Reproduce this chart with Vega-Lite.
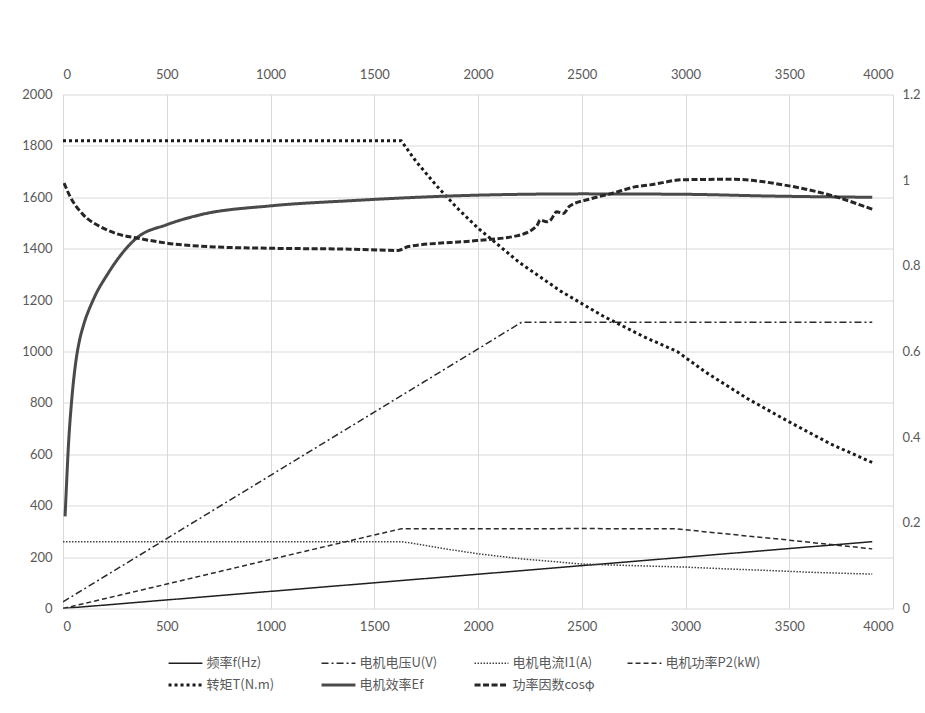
{
  "$schema": "https://vega.github.io/schema/vega-lite/v6.json",
  "width": 830,
  "height": 514,
  "autosize": {"type": "none"},
  "padding": {"left": 63, "top": 94.5, "right": 32, "bottom": 104.5},
  "background": "white",
  "config": {
    "view": {"stroke": null},
    "font": "Lato",
    "axis": {
      "domain": false,
      "ticks": false,
      "labelColor": "#595959",
      "labelFont": "Lato",
      "labelFontSize": 13,
      "gridColor": "#d9d9d9",
      "gridWidth": 1,
      "title": null
    },
    "legend": {
      "title": null,
      "orient": "none",
      "legendX": 116,
      "legendY": 562,
      "direction": "horizontal",
      "columns": 4,
      "gridAlign": "all",
      "columnPadding": 13,
      "rowPadding": 8,
      "padding": 0,
      "symbolType": "stroke",
      "symbolSize": 1150,
      "symbolStrokeWidth": 1.5,
      "labelOffset": 14.5,
      "labelFont": "Noto Sans CJK SC",
      "labelFontSize": 13,
      "labelColor": "#595959"
    }
  },
  "datasets": {
    "left": [
      {"s": "频率f(Hz)", "x": 0, "v": 0},
      {"s": "频率f(Hz)", "x": 500, "v": 33.3},
      {"s": "频率f(Hz)", "x": 1000, "v": 66.7},
      {"s": "频率f(Hz)", "x": 1500, "v": 100},
      {"s": "频率f(Hz)", "x": 1630, "v": 108.7},
      {"s": "频率f(Hz)", "x": 2000, "v": 133.3},
      {"s": "频率f(Hz)", "x": 2500, "v": 166.7},
      {"s": "频率f(Hz)", "x": 3000, "v": 200},
      {"s": "频率f(Hz)", "x": 3500, "v": 233.3},
      {"s": "频率f(Hz)", "x": 3900, "v": 260},

      {"s": "电机电压U(V)", "x": 0, "v": 26},
      {"s": "电机电压U(V)", "x": 500, "v": 272},
      {"s": "电机电压U(V)", "x": 1000, "v": 518},
      {"s": "电机电压U(V)", "x": 1500, "v": 764},
      {"s": "电机电压U(V)", "x": 2000, "v": 1010},
      {"s": "电机电压U(V)", "x": 2210, "v": 1114},
      {"s": "电机电压U(V)", "x": 2500, "v": 1114},
      {"s": "电机电压U(V)", "x": 3000, "v": 1114},
      {"s": "电机电压U(V)", "x": 3500, "v": 1114},
      {"s": "电机电压U(V)", "x": 3900, "v": 1114},

      {"s": "电机电流I1(A)", "x": 0, "v": 260},
      {"s": "电机电流I1(A)", "x": 500, "v": 260},
      {"s": "电机电流I1(A)", "x": 1000, "v": 260},
      {"s": "电机电流I1(A)", "x": 1500, "v": 260},
      {"s": "电机电流I1(A)", "x": 1630, "v": 260},
      {"s": "电机电流I1(A)", "x": 1700, "v": 252},
      {"s": "电机电流I1(A)", "x": 1800, "v": 238},
      {"s": "电机电流I1(A)", "x": 1900, "v": 225},
      {"s": "电机电流I1(A)", "x": 2000, "v": 213},
      {"s": "电机电流I1(A)", "x": 2200, "v": 194},
      {"s": "电机电流I1(A)", "x": 2400, "v": 180},
      {"s": "电机电流I1(A)", "x": 2500, "v": 173},
      {"s": "电机电流I1(A)", "x": 2700, "v": 168},
      {"s": "电机电流I1(A)", "x": 3000, "v": 161},
      {"s": "电机电流I1(A)", "x": 3200, "v": 154},
      {"s": "电机电流I1(A)", "x": 3400, "v": 148},
      {"s": "电机电流I1(A)", "x": 3600, "v": 141},
      {"s": "电机电流I1(A)", "x": 3800, "v": 136},
      {"s": "电机电流I1(A)", "x": 3900, "v": 134},

      {"s": "电机功率P2(kW)", "x": 0, "v": 0},
      {"s": "电机功率P2(kW)", "x": 500, "v": 95},
      {"s": "电机功率P2(kW)", "x": 1000, "v": 191},
      {"s": "电机功率P2(kW)", "x": 1500, "v": 286},
      {"s": "电机功率P2(kW)", "x": 1630, "v": 310},
      {"s": "电机功率P2(kW)", "x": 2000, "v": 310},
      {"s": "电机功率P2(kW)", "x": 2500, "v": 311},
      {"s": "电机功率P2(kW)", "x": 2960, "v": 310},
      {"s": "电机功率P2(kW)", "x": 3100, "v": 298},
      {"s": "电机功率P2(kW)", "x": 3300, "v": 282},
      {"s": "电机功率P2(kW)", "x": 3500, "v": 266},
      {"s": "电机功率P2(kW)", "x": 3700, "v": 249},
      {"s": "电机功率P2(kW)", "x": 3900, "v": 232},

      {"s": "转矩T(N.m)", "x": 0, "v": 1820},
      {"s": "转矩T(N.m)", "x": 500, "v": 1820},
      {"s": "转矩T(N.m)", "x": 1000, "v": 1820},
      {"s": "转矩T(N.m)", "x": 1500, "v": 1820},
      {"s": "转矩T(N.m)", "x": 1630, "v": 1820},
      {"s": "转矩T(N.m)", "x": 1700, "v": 1741},
      {"s": "转矩T(N.m)", "x": 1800, "v": 1645},
      {"s": "转矩T(N.m)", "x": 1900, "v": 1558},
      {"s": "转矩T(N.m)", "x": 2000, "v": 1480},
      {"s": "转矩T(N.m)", "x": 2200, "v": 1346},
      {"s": "转矩T(N.m)", "x": 2400, "v": 1234},
      {"s": "转矩T(N.m)", "x": 2600, "v": 1139},
      {"s": "转矩T(N.m)", "x": 2800, "v": 1057},
      {"s": "转矩T(N.m)", "x": 2960, "v": 1000},
      {"s": "转矩T(N.m)", "x": 3100, "v": 918},
      {"s": "转矩T(N.m)", "x": 3300, "v": 816},
      {"s": "转矩T(N.m)", "x": 3500, "v": 726},
      {"s": "转矩T(N.m)", "x": 3700, "v": 640},
      {"s": "转矩T(N.m)", "x": 3900, "v": 568}
    ],
    "right": [
      {"s": "电机效率Ef", "x": 10, "v": 0.215},
      {"s": "电机效率Ef", "x": 18, "v": 0.3},
      {"s": "电机效率Ef", "x": 25, "v": 0.37},
      {"s": "电机效率Ef", "x": 42, "v": 0.487},
      {"s": "电机效率Ef", "x": 55, "v": 0.55},
      {"s": "电机效率Ef", "x": 66, "v": 0.59},
      {"s": "电机效率Ef", "x": 80, "v": 0.627},
      {"s": "电机效率Ef", "x": 98, "v": 0.66},
      {"s": "电机效率Ef", "x": 146, "v": 0.721},
      {"s": "电机效率Ef", "x": 218, "v": 0.783},
      {"s": "电机效率Ef", "x": 355, "v": 0.865},
      {"s": "电机效率Ef", "x": 500, "v": 0.896},
      {"s": "电机效率Ef", "x": 660, "v": 0.919},
      {"s": "电机效率Ef", "x": 1000, "v": 0.94},
      {"s": "电机效率Ef", "x": 1383, "v": 0.952},
      {"s": "电机效率Ef", "x": 2000, "v": 0.965},
      {"s": "电机效率Ef", "x": 2500, "v": 0.968},
      {"s": "电机效率Ef", "x": 3000, "v": 0.967},
      {"s": "电机效率Ef", "x": 3400, "v": 0.963},
      {"s": "电机效率Ef", "x": 3900, "v": 0.96},

      {"s": "功率因数cosφ", "x": 5, "v": 0.993},
      {"s": "功率因数cosφ", "x": 34, "v": 0.962},
      {"s": "功率因数cosφ", "x": 98, "v": 0.919},
      {"s": "功率因数cosφ", "x": 178, "v": 0.892},
      {"s": "功率因数cosφ", "x": 259, "v": 0.875},
      {"s": "功率因数cosφ", "x": 355, "v": 0.865},
      {"s": "功率因数cosφ", "x": 500, "v": 0.853},
      {"s": "功率因数cosφ", "x": 741, "v": 0.844},
      {"s": "功率因数cosφ", "x": 1000, "v": 0.841},
      {"s": "功率因数cosφ", "x": 1383, "v": 0.839},
      {"s": "功率因数cosφ", "x": 1616, "v": 0.836},
      {"s": "功率因数cosφ", "x": 1664, "v": 0.845},
      {"s": "功率因数cosφ", "x": 1993, "v": 0.859},
      {"s": "功率因数cosφ", "x": 2186, "v": 0.87},
      {"s": "功率因数cosφ", "x": 2283, "v": 0.893},
      {"s": "功率因数cosφ", "x": 2300, "v": 0.907},
      {"s": "功率因数cosφ", "x": 2330, "v": 0.903},
      {"s": "功率因数cosφ", "x": 2350, "v": 0.907},
      {"s": "功率因数cosφ", "x": 2379, "v": 0.926},
      {"s": "功率因数cosφ", "x": 2410, "v": 0.922},
      {"s": "功率因数cosφ", "x": 2443, "v": 0.94},
      {"s": "功率因数cosφ", "x": 2540, "v": 0.956},
      {"s": "功率因数cosφ", "x": 2652, "v": 0.97},
      {"s": "功率因数cosφ", "x": 2764, "v": 0.985},
      {"s": "功率因数cosφ", "x": 2829, "v": 0.989},
      {"s": "功率因数cosφ", "x": 2990, "v": 1.001},
      {"s": "功率因数cosφ", "x": 3230, "v": 1.002},
      {"s": "功率因数cosφ", "x": 3471, "v": 0.989},
      {"s": "功率因数cosφ", "x": 3712, "v": 0.963},
      {"s": "功率因数cosφ", "x": 3900, "v": 0.932}
    ]
  },
  "encoding": {
    "color": {
      "field": "s",
      "type": "nominal",
      "scale": {
        "domain": ["频率f(Hz)", "电机电压U(V)", "电机电流I1(A)", "电机功率P2(kW)", "转矩T(N.m)", "电机效率Ef", "功率因数cosφ"],
        "range": ["#1f1f1f", "#2b2b2b", "#404040", "#2b2b2b", "#1a1a1a", "#4a4a4a", "#262626"]
      },
      "legend": {
        "encode": {
          "symbols": {
            "update": {
              "strokeWidth": {"signal": "indexof(['转矩T(N.m)', '电机效率Ef', '功率因数cosφ'], datum.value) >= 0 ? 3 : 1.5"}
            }
          }
        }
      }
    },
    "strokeDash": {
      "field": "s",
      "type": "nominal",
      "scale": {
        "domain": ["频率f(Hz)", "电机电压U(V)", "电机电流I1(A)", "电机功率P2(kW)", "转矩T(N.m)", "电机效率Ef", "功率因数cosφ"],
        "range": [[1, 0], [7, 3, 2, 3], [1.5, 1.5], [5, 3], [3, 3], [1, 0], [6, 2.5]]
      }
    },
    "strokeWidth": {
      "condition": {"test": "indexof(['转矩T(N.m)', '电机效率Ef', '功率因数cosφ'], datum.s) >= 0", "value": 3},
      "value": 1.5
    }
  },
  "layer": [
    {
      "data": {"name": "left"},
      "mark": {"type": "line", "clip": true},
      "encoding": {
        "x": {
          "field": "x",
          "type": "quantitative",
          "scale": {"domain": [0, 4000]},
          "axis": {
            "orient": "bottom",
            "values": [0, 500, 1000, 1500, 2000, 2500, 3000, 3500, 4000],
            "format": "d",
            "grid": true,
            "labelPadding": 12
          }
        },
        "y": {
          "field": "v",
          "type": "quantitative",
          "scale": {"domain": [0, 2000]},
          "axis": {
            "orient": "left",
            "values": [0, 200, 400, 600, 800, 1000, 1200, 1400, 1600, 1800, 2000],
            "format": "d",
            "grid": true,
            "labelPadding": 11
          }
        }
      }
    },
    {
      "data": {"name": "right"},
      "mark": {"type": "line", "clip": true, "interpolate": "monotone"},
      "encoding": {
        "x": {
          "field": "x",
          "type": "quantitative",
          "scale": {"domain": [0, 4000]},
          "axis": {
            "orient": "top",
            "values": [0, 500, 1000, 1500, 2000, 2500, 3000, 3500, 4000],
            "format": "d",
            "grid": false,
            "labelPadding": 13
          }
        },
        "y": {
          "field": "v",
          "type": "quantitative",
          "scale": {"domain": [0, 1.2]},
          "axis": {
            "orient": "right",
            "values": [0, 0.2, 0.4, 0.6, 0.8, 1, 1.2],
            "format": "~g",
            "grid": false,
            "labelPadding": 9
          }
        }
      }
    }
  ],
  "resolve": {"scale": {"y": "independent"}}
}
